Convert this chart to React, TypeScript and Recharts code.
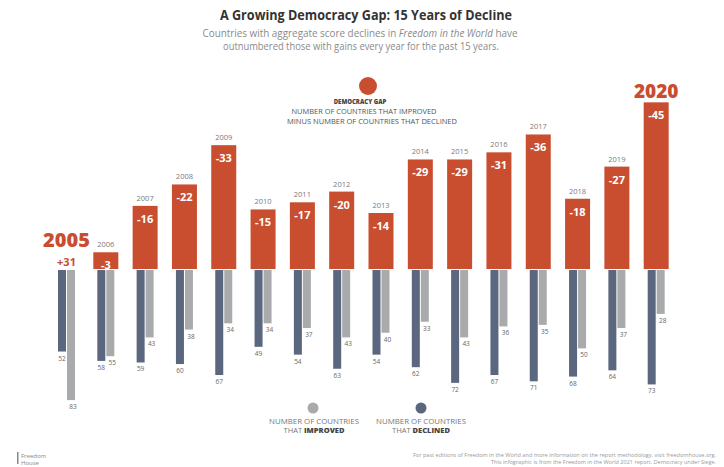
import React from "react";
import { ComposedChart, Bar, XAxis, YAxis } from "recharts";

const years = [2005, 2006, 2007, 2008, 2009, 2010, 2011, 2012, 2013, 2014, 2015, 2016, 2017, 2018, 2019, 2020];
const gapValues = [31, -3, -16, -22, -33, -15, -17, -20, -14, -29, -29, -31, -36, -18, -27, -45];
const declinedValues = [52, 58, 59, 60, 67, 49, 54, 63, 54, 62, 72, 67, 71, 68, 64, 73];
const improvedValues = [83, 55, 43, 38, 34, 34, 37, 43, 40, 33, 43, 36, 35, 50, 37, 28];

const data = years.map((year, i) => ({
  year,
  gap: gapValues[i],
  declined: declinedValues[i],
  improved: improvedValues[i],
}));

const ORANGE = "#C94E30";
const DARK = "#5A677E";
const LIGHT = "#A9AAAC";
const FONT = "'Open Sans', 'Noto Sans', sans-serif";

const GapShape = (props: any) => {
  const { x, y, width, height, payload, fill } = props;
  const top = Math.min(y, y + height);
  const bottom = Math.max(y, y + height);
  const cx = x + width / 2;
  if (payload.gap > 0) {
    return (
      <g>
        <text x={cx} y={top - 16} textAnchor="middle" fontFamily={FONT} fontWeight={800} fontSize={20} fill={ORANGE}>
          {String(payload.year)}
        </text>
        <text x={cx} y={top + 3} textAnchor="middle" fontFamily={FONT} fontWeight={700} fontSize={11} fill={ORANGE}>
          {"+" + payload.gap}
        </text>
      </g>
    );
  }
  const isLast = payload.year === 2020;
  return (
    <g>
      <rect x={x} y={top} width={width} height={bottom - top + 6} fill={fill} />
      {isLast ? (
        <text x={cx} y={top - 4} textAnchor="middle" fontFamily={FONT} fontWeight={800} fontSize={19} fill={ORANGE}>
          {String(payload.year)}
        </text>
      ) : (
        <text x={cx} y={top - 5} textAnchor="middle" fontFamily={FONT} fontWeight={400} fontSize={7.5} fill="#7a7a7a">
          {String(payload.year)}
        </text>
      )}
      <text x={cx} y={top + 17} textAnchor="middle" fontFamily={FONT} fontWeight={700} fontSize={11} fill="#ffffff">
        {String(payload.gap)}
      </text>
    </g>
  );
};

const makeCountShape = (key: "declined" | "improved", dx: number) => (props: any) => {
  const { x, y, width, height, payload, fill } = props;
  const top = Math.min(y, y + height);
  const bottom = Math.max(y, y + height);
  return (
    <g>
      <rect x={x} y={top} width={width} height={bottom - top} fill={fill} />
      <text x={x + width / 2 + dx} y={bottom + 9} textAnchor="middle" fontFamily={FONT} fontSize={6.5} fill="#666">
        {String(payload[key])}
      </text>
    </g>
  );
};

const DeclinedShape = makeCountShape("declined", 0);
const ImprovedShape = makeCountShape("improved", 2);

export default function App() {
  return (
    <div style={{ position: "absolute", left: 0, top: 0, width: 724, height: 467, background: "#fff" }}>
      <ComposedChart
        width={724}
        height={467}
        data={data}
        margin={{ top: 70, right: 48, bottom: 47, left: 47 }}
        barGap={1}
      >
        <XAxis xAxisId="g" dataKey="year" hide />
        <XAxis xAxisId="c" dataKey="year" hide />
        <YAxis yAxisId="g" hide reversed domain={[-54.06, 43.98]} allowDataOverflow />
        <YAxis yAxisId="c" hide reversed domain={[-127.63, 95.7]} allowDataOverflow />
        <Bar xAxisId="g" yAxisId="g" dataKey="gap" barSize={25} fill={ORANGE} shape={GapShape} isAnimationActive={false} />
        <Bar xAxisId="c" yAxisId="c" dataKey="declined" barSize={8} fill={DARK} shape={DeclinedShape} isAnimationActive={false} />
        <Bar xAxisId="c" yAxisId="c" dataKey="improved" barSize={8} fill={LIGHT} shape={ImprovedShape} isAnimationActive={false} />
      </ComposedChart>
      <svg
        width={724}
        height={467}
        style={{ position: "absolute", left: 0, top: 0, pointerEvents: "none" }}
        fontFamily={FONT}
      >
        <defs>
          <clipPath id="titleclip">
            <rect x={0} y={10} width={724} height={20} />
          </clipPath>
        </defs>
        <text
          x={366}
          y={20}
          textAnchor="middle"
          fontWeight={700}
          fontSize={14}
          fill="#333"
          clipPath="url(#titleclip)"
          textLength={292}
          lengthAdjust="spacingAndGlyphs"
        >
          A Growing Democracy Gap: 15 Years of Decline
        </text>
        <text x={360} y={37} textAnchor="middle" fontSize={10} fill="#8a8a8a" textLength={315} lengthAdjust="spacingAndGlyphs">
          Countries with aggregate score declines in <tspan fontStyle="italic">Freedom in the World</tspan> have
        </text>
        <text x={361} y={50} textAnchor="middle" fontSize={10} fill="#8a8a8a" textLength={276} lengthAdjust="spacingAndGlyphs">
          outnumbered those with gains every year for the past 15 years.
        </text>

        <circle cx={368} cy={86} r={9} fill={ORANGE} />
        <text x={360} y={104} textAnchor="middle" fontSize={6} fontWeight={800} fill="#444">
          DEMOCRACY GAP
        </text>
        <text x={364} y={114} textAnchor="middle" fontSize={7.5} fill="#555" textLength={145} lengthAdjust="spacingAndGlyphs">
          NUMBER OF COUNTRIES THAT IMPROVED
        </text>
        <text x={372} y={124} textAnchor="middle" fontSize={7.5} fill="#555" textLength={170} lengthAdjust="spacingAndGlyphs">
          MINUS NUMBER OF COUNTRIES THAT DECLINED
        </text>

        <circle cx={313} cy={408} r={5.5} fill={LIGHT} />
        <text x={314} y={424} textAnchor="middle" fontSize={7.5} fill="#777" textLength={90} lengthAdjust="spacingAndGlyphs">
          NUMBER OF COUNTRIES
        </text>
        <text x={314} y={433} textAnchor="middle" fontSize={7.5} fill="#777">
          THAT <tspan fontWeight={800} fill="#444">IMPROVED</tspan>
        </text>
        <circle cx={421} cy={408} r={5.5} fill={DARK} />
        <text x={421} y={424} textAnchor="middle" fontSize={7.5} fill="#777" textLength={90} lengthAdjust="spacingAndGlyphs">
          NUMBER OF COUNTRIES
        </text>
        <text x={421} y={433} textAnchor="middle" fontSize={7.5} fill="#777">
          THAT <tspan fontWeight={800} fill="#444">DECLINED</tspan>
        </text>

        <rect x={17} y={452} width={1.5} height={12} fill="#888" />
        <text x={21} y={458} fontSize={6} fill="#888">Freedom</text>
        <text x={21} y={465} fontSize={6} fill="#888">House</text>

        <text x={716} y={457} textAnchor="end" fontSize={5} fill="#999" textLength={303} lengthAdjust="spacingAndGlyphs">
          For past editions of Freedom in the World and more information on the report methodology, visit freedomhouse.org.
        </text>
        <text x={716} y={464} textAnchor="end" fontSize={5} fill="#999" textLength={225} lengthAdjust="spacingAndGlyphs">
          This infographic is from the Freedom in the World 2021 report. Democracy under Siege.
        </text>
      </svg>
    </div>
  );
}
